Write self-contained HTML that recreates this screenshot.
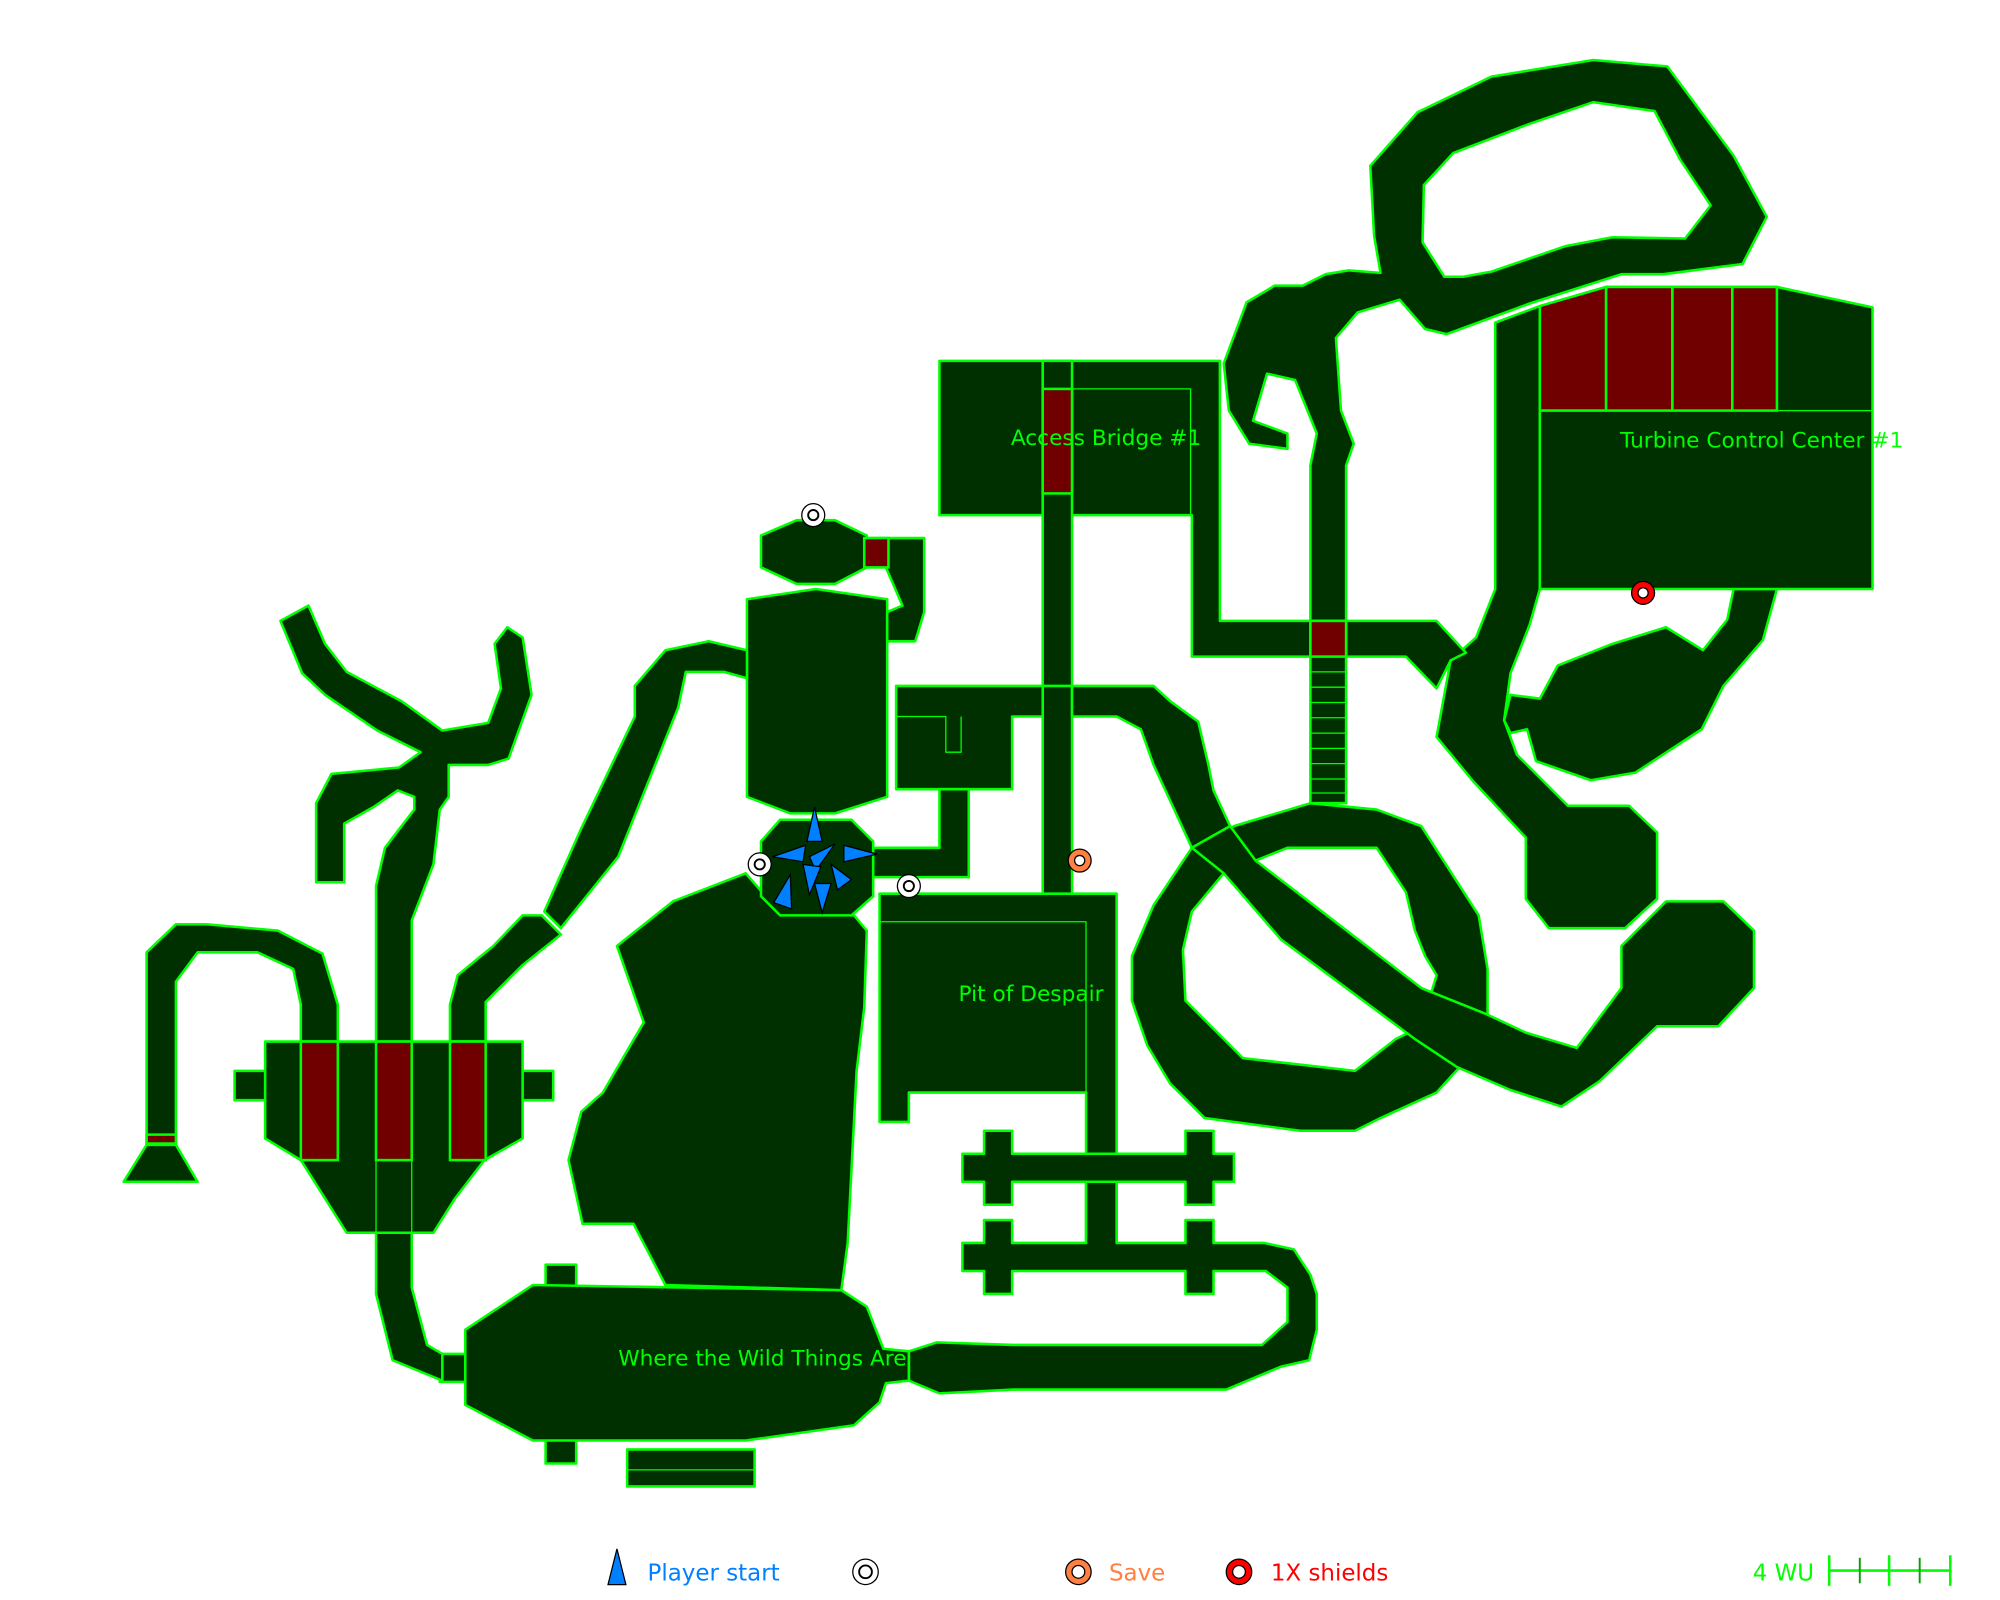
<!DOCTYPE html>
<html><head><meta charset="utf-8"><style>html,body{margin:0;padding:0;background:#fff}svg{display:block}</style></head><body>
<svg width="2000" height="1600" viewBox="0 0 1569 1255" xmlns="http://www.w3.org/2000/svg" font-family="DejaVu Sans, sans-serif">
<g fill="#003000" stroke="#00ff00" stroke-width="2" stroke-linejoin="round">
<path fill-rule="evenodd" d="M1075,130 L1112,88 L1170,60 L1250,47 L1308,52 L1360,122 L1386,170 L1367,207 L1305,215 L1272,215 L1200,238 L1135,262 L1118,258 L1098,235 L1065,245 L1048,265 L1052,322 L1062,348 L1056,365 L1056,487 L1028,487 L1028,365 L1033,340 L1016,298 L994,293 L983,330 L1010,340 L1010,352 L980,348 L964,322 L960,285 L978,237 L1000,224 L1022,224 L1040,215 L1058,212 L1083,214 L1078,185 Z M1140,120 L1200,97 L1250,80 L1298,87 L1318,125 L1342,161 L1322,187 L1265,186 L1228,193 L1170,213 L1148,217 L1133,217 L1116,190 L1117,145 Z"/>
<path d="M1173,253 L1208,240 L1208,462 L1200,490 L1185,528 L1180,565 L1190,592 L1230,632 L1278,632 L1300,653 L1300,705 L1275,728 L1215,728 L1197,705 L1197,657 L1155,612 L1127,578 L1138,518 L1158,500 L1173,462 Z"/>
<path d="M1208,548 L1222,522 L1265,505 L1307,492 L1336,510 L1355,486 L1360,462 L1394,462 L1383,502 L1352,538 L1335,572 L1283,606 L1248,612 L1205,597 L1198,572 L1185,575 L1180,565 L1185,545 Z"/>
<path d="M1208,240 L1260,225 L1394,225 L1469,241 L1469,462 L1208,462 Z"/>
<line x1="1208" y1="322" x2="1469" y2="322" stroke-width="1"/>
<path d="M737,283 L957,283 L957,487 L1127,487 L1150,512 L1138,518 L1127,540 L1103,515 L935,515 L935,404 L737,404 Z"/>
<path d="M841,305 L934,305 L934,404" fill="none" stroke-width="1"/>
<rect x="818" y="283" width="23" height="420"/>
<path d="M703,538 L905,538 L918,550 L940,566 L948,600 L952,620 L965,648 L935,665 L918,628 L905,600 L895,572 L876,562 L841,562 L841,538 L818,538 L818,562 L794,562 L794,619 L703,619 Z"/>
<path d="M703,562 L742,562 L742,590 L754,590 L754,562" fill="none" stroke-width="1"/>
<rect x="1028" y="487" width="28" height="143"/>
<path fill-rule="evenodd" d="M968,648 L1028,630 L1080,635 L1115,648 L1160,718 L1167,760 L1167,795 L1147,835 L1127,857 L1083,877 L1063,887 L1020,887 L945,877 L918,850 L900,820 L888,785 L888,750 L905,710 L935,665 Z M1010,665 L1080,665 L1103,700 L1110,730 L1118,750 L1127,765 L1115,805 L1095,815 L1063,840 L975,830 L930,785 L928,745 L935,715 L960,685 Z"/>
<path d="M935,665 L965,648 L985,675 L1015,698 L1115,775 L1165,795 L1197,810 L1237,822 L1272,775 L1272,742 L1307,707 L1352,707 L1376,730 L1376,775 L1348,805 L1300,805 L1255,848 L1225,868 L1185,855 L1143,837 L1110,815 L1005,737 L960,685 Z"/>
<path d="M690,701 L876,701 L876,975 L852,975 L852,857 L713,857 L713,880 L690,880 Z"/>
<path d="M690,723 L852,723 L852,857" fill="none" stroke-width="1"/>
<path d="M755,905 L772,905 L772,887 L794,887 L794,905 L930,905 L930,887 L952,887 L952,905 L968,905 L968,927 L952,927 L952,945 L930,945 L930,927 L794,927 L794,945 L772,945 L772,927 L755,927 Z"/>
<path d="M852,927 L876,927 L876,975 L930,975 L930,957 L952,957 L952,975 L992,975 L1015,980 L1028,1000 L1033,1015 L1033,1043 L1027,1067 L1005,1072 L962,1090 L795,1090 L737,1093 L713,1083 L713,1060 L735,1053 L795,1055 L990,1055 L1010,1037 L1010,1010 L993,997 L952,997 L952,1015 L930,1015 L930,997 L794,997 L794,1015 L772,1015 L772,997 L755,997 L755,975 L772,975 L772,957 L794,957 L794,975 L852,975 Z"/>
<rect x="428" y="992" width="24" height="156"/>
<rect x="492" y="1137" width="100" height="29"/>
<line x1="492" y1="1153" x2="592" y2="1153" stroke-width="1"/>
<rect x="345" y="1062" width="22" height="22"/>
<path d="M365,1043 L418,1008 L660,1012 L680,1025 L693,1058 L713,1060 L713,1083 L695,1085 L690,1100 L670,1118 L585,1130 L418,1130 L365,1102 Z"/>
<path d="M484,742 L528,707 L585,685 L598,700 L612,715 L670,718 L680,730 L678,790 L672,840 L665,975 L660,1012 L522,1008 L497,960 L457,960 L446,910 L456,872 L473,857 L505,802 Z"/>
<path d="M586,470 L640,462 L696,470 L696,625 L655,638 L620,638 L586,625 Z"/>
<path d="M597,420 L625,408 L655,408 L680,420 L680,445 L655,458 L625,458 L597,445 Z"/>
<path d="M678,422 L725,422 L725,480 L718,503 L696,503 L696,480 L708,475 L695,445 L678,445 Z"/>
<path d="M685,665 L737,665 L737,619 L760,619 L760,688 L685,688 Z"/>
<path d="M612,643 L668,643 L685,660 L685,703 L668,718 L612,718 L597,703 L597,660 Z"/>
<path d="M586,510 L556,503 L522,510 L498,538 L498,562 L455,652 L427,715 L440,728 L485,672 L532,555 L538,527 L568,527 L586,532 Z"/>
<path d="M295,695 L302,665 L325,635 L325,625 L312,620 L293,633 L270,646 L270,692 L248,692 L248,630 L260,607 L313,602 L330,590 L296,573 L255,545 L237,528 L220,487 L242,475 L255,505 L272,527 L315,550 L347,573 L383,567 L393,540 L388,505 L398,492 L410,500 L417,545 L399,595 L383,600 L352,600 L352,625 L345,635 L340,678 L323,722 L323,1010 L335,1055 L347,1062 L347,1083 L308,1067 L295,1015 Z"/>
<path d="M115,747 L138,725 L162,725 L218,730 L253,748 L265,788 L265,817 L236,817 L236,788 L230,760 L202,747 L155,747 L138,770 L138,898 L115,898 Z"/>
<path d="M115,898 L138,898 L155,927 L97,927 Z"/>
<path d="M353,817 L353,788 L359,765 L387,742 L410,718 L425,718 L440,733 L410,757 L381,786 L381,817 Z"/>
<rect x="184" y="840" width="26" height="23"/>
<rect x="408" y="840" width="26" height="23"/>
<path d="M208,817 L410,817 L410,893 L380,910 L357,940 L340,967 L272,967 L236,910 L208,893 Z"/>
</g>
<g fill="#700000" stroke="#00ff00" stroke-width="2">
<path d="M1208,240 L1260,225 L1260,322 L1208,322 Z"/>
<rect x="1260" y="225" width="52" height="97"/>
<rect x="1312" y="225" width="47" height="97"/>
<rect x="1359" y="225" width="35" height="97"/>
<rect x="818" y="305" width="23" height="82"/>
<rect x="1028" y="487" width="28" height="28"/>
<rect x="678" y="422" width="19" height="23"/>
<rect x="236" y="817" width="29" height="93"/>
<rect x="295" y="817" width="28" height="93"/>
<rect x="353" y="817" width="28" height="93"/>
<rect x="115" y="890" width="23" height="7"/>
</g>
<g stroke="#00ff00" stroke-width="1">
<line x1="1028" y1="527" x2="1056" y2="527"/><line x1="1028" y1="539" x2="1056" y2="539"/><line x1="1028" y1="551" x2="1056" y2="551"/><line x1="1028" y1="563" x2="1056" y2="563"/><line x1="1028" y1="575" x2="1056" y2="575"/><line x1="1028" y1="587" x2="1056" y2="587"/><line x1="1028" y1="599" x2="1056" y2="599"/><line x1="1028" y1="611" x2="1056" y2="611"/><line x1="1028" y1="622" x2="1056" y2="622"/>
<line x1="323" y1="910" x2="323" y2="967"/><line x1="295" y1="910" x2="295" y2="1015"/>
</g>
<g fill="#00ff00" font-size="17">
<text x="793" y="349">Access Bridge #1</text>
<text x="1271" y="351">Turbine Control Center #1</text>
<text x="752" y="785">Pit of Despair</text>
<text x="485" y="1071">Where the Wild Things Are</text>
</g>
<g fill="#0080ff" stroke="#000" stroke-width="1">
<path d="M639,633 L645,660 L633,660 Z"/>
<path d="M606,672 L632,663 L630,676 Z"/>
<path d="M688,670 L662,663 L662,676 Z"/>
<path d="M655,662 L640,683 L635,672 Z"/>
<path d="M620,686 L621,713 L607,708 Z"/>
<path d="M645,716 L639,693 L652,693 Z"/>
<path d="M668,690 L652,678 L657,698 Z"/>
<path d="M630,678 L635,702 L644,680 Z"/>
</g>
<circle cx="638" cy="404" r="9" fill="#fff" stroke="#000" stroke-width="1"/><circle cx="638" cy="404" r="4" fill="none" stroke="#000" stroke-width="1.5"/>
<circle cx="596" cy="678" r="9" fill="#fff" stroke="#000" stroke-width="1"/><circle cx="596" cy="678" r="4" fill="none" stroke="#000" stroke-width="1.5"/>
<circle cx="713" cy="695" r="9" fill="#fff" stroke="#000" stroke-width="1"/><circle cx="713" cy="695" r="4" fill="none" stroke="#000" stroke-width="1.5"/>
<circle cx="847" cy="675" r="9" fill="#ff8040" stroke="#000" stroke-width="1"/><circle cx="847" cy="675" r="4" fill="#fff" stroke="#000" stroke-width="1"/>
<circle cx="1289" cy="465" r="9" fill="#ff0000" stroke="#000" stroke-width="1"/><circle cx="1289" cy="465" r="4" fill="#fff" stroke="#000" stroke-width="1"/>
<path d="M484,1215 L491,1243 L477,1243 Z" fill="#0080ff" stroke="#000" stroke-width="1"/>
<text x="508" y="1240" font-size="18" fill="#0080ff">Player start</text>
<circle cx="679" cy="1233" r="10" fill="#fff" stroke="#000"/><circle cx="679" cy="1233" r="5" fill="none" stroke="#000" stroke-width="1.5"/>
<circle cx="846" cy="1233" r="10" fill="#ff8040" stroke="#000"/><circle cx="846" cy="1233" r="5" fill="#fff" stroke="#000"/>
<text x="870" y="1240" font-size="18" fill="#ff8040">Save</text>
<circle cx="972" cy="1233" r="10" fill="#ff0000" stroke="#000"/><circle cx="972" cy="1233" r="5" fill="#fff" stroke="#000"/>
<text x="997" y="1240" font-size="18" fill="#ff0000">1X shields</text>
<text x="1375" y="1240" font-size="18" fill="#00ff00">4 WU</text>
<g stroke="#00ff00" stroke-width="2"><line x1="1435" y1="1232" x2="1530" y2="1232"/><line x1="1435" y1="1220" x2="1435" y2="1244"/><line x1="1482" y1="1220" x2="1482" y2="1244"/><line x1="1530" y1="1220" x2="1530" y2="1244"/></g>
<g stroke="#00a000" stroke-width="1.5"><line x1="1459" y1="1222" x2="1459" y2="1242"/><line x1="1506" y1="1222" x2="1506" y2="1242"/></g>
</svg>
</body></html>
